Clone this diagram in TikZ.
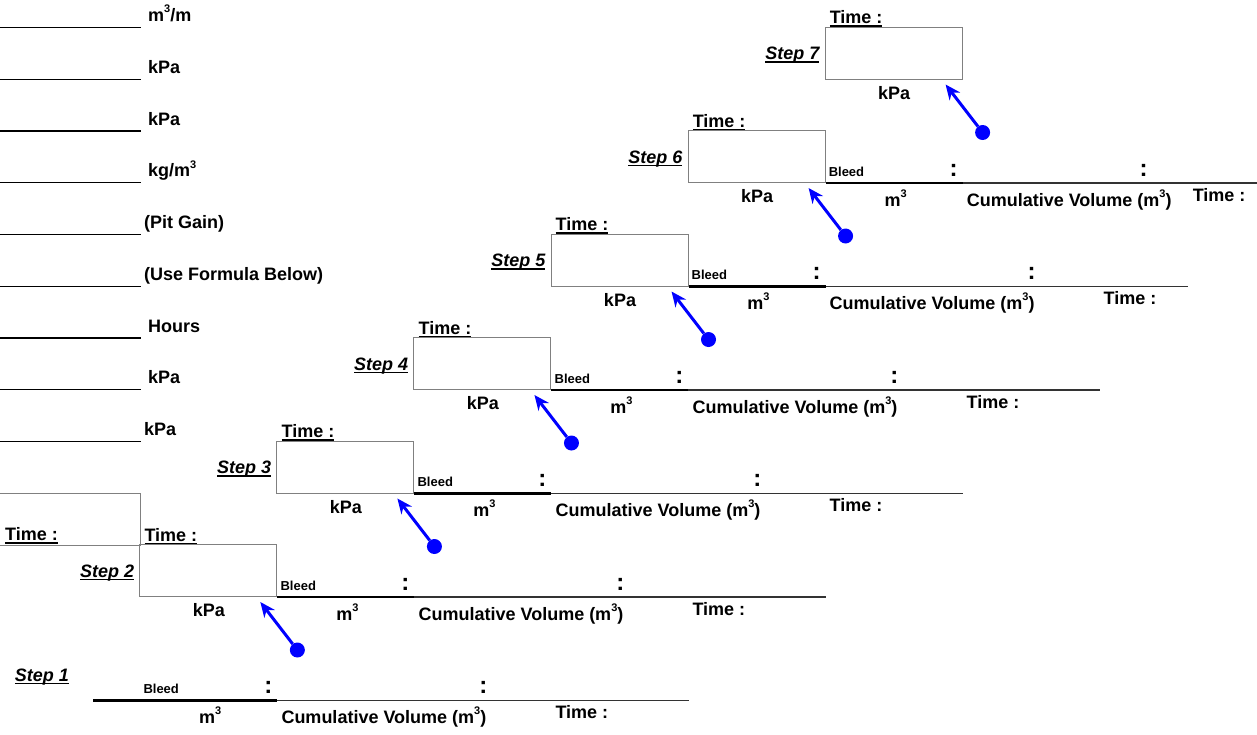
\documentclass[tikz,border=0pt]{standalone}
\usepackage{fontspec}
\setmainfont{Liberation Sans}
\usetikzlibrary{arrows.meta}
\newcommand\myul[1]{\setbox0\hbox{#1}\rlap{\rule[-3.3pt]{\wd0}{1.4pt}}\box0}
\newcommand\supthree{\raisebox{0.48em}{\fontsize{11}{11}\selectfont 3}}
\newcommand\mthree{m\supthree}
\newcommand\mpm{m\supthree/m}
\newcommand\kgm{kg/m\supthree}
\begin{document}
\begin{tikzpicture}[x=1pt,y=-1pt,
  txt/.style={inner sep=0pt, font=\fontsize{18}{20}\selectfont\bfseries},
  colontxt/.style={inner sep=0pt, font=\fontsize{24}{26}\selectfont\bfseries},
  smalltxt/.style={inner sep=0pt, font=\fontsize{13}{15}\selectfont\bfseries},
  steplbl/.style={inner sep=0pt, font=\fontsize{18}{20}\selectfont\bfseries\itshape, anchor=base east},
  boxst/.style={draw=black!50, line width=1pt},
  blankline/.style={draw=black, line width=1.1pt},
  restline/.style={draw=black!80, line width=1.2pt},
  bleedline/.style={draw=black, line width=2.2pt},
  dotst/.style={circle, fill=blue, inner sep=0pt, minimum size=15pt},
  ptr/.style={draw=blue, line width=3pt, -{Stealth[length=15pt,width=13pt]}},
]
\useasboundingbox (0,0) rectangle (1257,734);

% left column of blanks
\foreach \i/\lab/\lx in {0/\mpm/148, 1/kPa/148, 2/kPa/148, 3/\kgm/148, 4/(Pit Gain)/144, 5/(Use Formula Below)/144, 6/Hours/148, 7/kPa/148, 8/kPa/144} {
  \pgfmathsetmacro\ly{27.5+\i*51.75}
  \coordinate (la\i) at (0,\ly);
  \coordinate (lb\i) at (141,\ly);
  \draw[blankline] (la\i) -- (lb\i);
  \node[txt, anchor=base west] (lt\i) at (\lx,\ly-6) {\lab};
}

% rows (bleed lines)
\foreach \n in {1,...,6} {
  \pgfmathsetmacro\R{140.3+(\n-1)*137.05}
  \pgfmathsetmacro\B{700.5-(\n-1)*103.5}
  \pgfmathsetmacro\E{\n==5 ? 1188 : (\n==6 ? 1258 : \R+549)}
  \pgfmathsetmacro\Ca{\n==6 ? 318 : 343}
  \pgfmathsetmacro\Ta{\n==6 ? 367 : 415}
  \pgfmathsetmacro\S{\n==1 ? 93 : \R}
  \coordinate (bs\n) at (\S,\B);
  \coordinate (bm\n) at (\R+137,\B);
  \coordinate (be\n) at (\E,\B);
  \draw[restline] (bm\n) -- (be\n);
  \draw[bleedline] (bs\n) -- (bm\n);
  \node[smalltxt, anchor=base west] (bl\n) at (\R+3,\B-7) {Bleed};
  \node[colontxt, anchor=base] (ca\n) at (\R+128,\B-7) {:};
  \node[colontxt, anchor=base] (cb\n) at (\R+\Ca,\B-7) {:};
  \node[txt, anchor=base] (m\n) at (\R+70,\B+23) {\mthree};
  \node[txt, anchor=base west] (cv\n) at (\R+141,\B+23) {Cumulative Volume (\mthree)};
  \node[txt, anchor=base west] (tm\n) at (\R+\Ta,\B+18) {Time :};
}

% boxes for steps 2..7
\foreach \n in {2,...,7} {
  \pgfmathsetmacro\R{140.3+(\n-1)*137.05}
  \pgfmathsetmacro\B{700.5-(\n-1)*103.5}
  \node[boxst, minimum width=137pt, minimum height=52pt, anchor=south east, inner sep=0pt] (bx\n) at (\R,\B) {};
  \node[txt, anchor=base] (kp\n) at (\R-68.5,\B+19.5) {kPa};
  \node[txt, anchor=base west] (tt\n) at (\R-133,\B-56) {\myul{Time :}};
  \node[steplbl] (sl\n) at (\R-143,\B-20) {\myul{Step \n}};
  \node[dotst] (d\n) at (\R+20,\B+53) {};
  \coordinate (tip\n) at (\R-17,\B+5);
  \draw[ptr] (d\n) -- (tip\n);
}

% step 1 extras
\node[steplbl] (sl1) at (69,681) {\myul{Step 1}};
\coordinate (ob1) at (-2,493);
\coordinate (ob2) at (140.3,493);
\coordinate (ob3) at (140.3,545);
\coordinate (ob4) at (-2,545);
\draw[boxst] (ob1) -- (ob2) -- (ob3) -- (ob4);
\node[txt, anchor=base west] (tt1) at (5,540.5) {\myul{Time :}};
\end{tikzpicture}
\end{document}
